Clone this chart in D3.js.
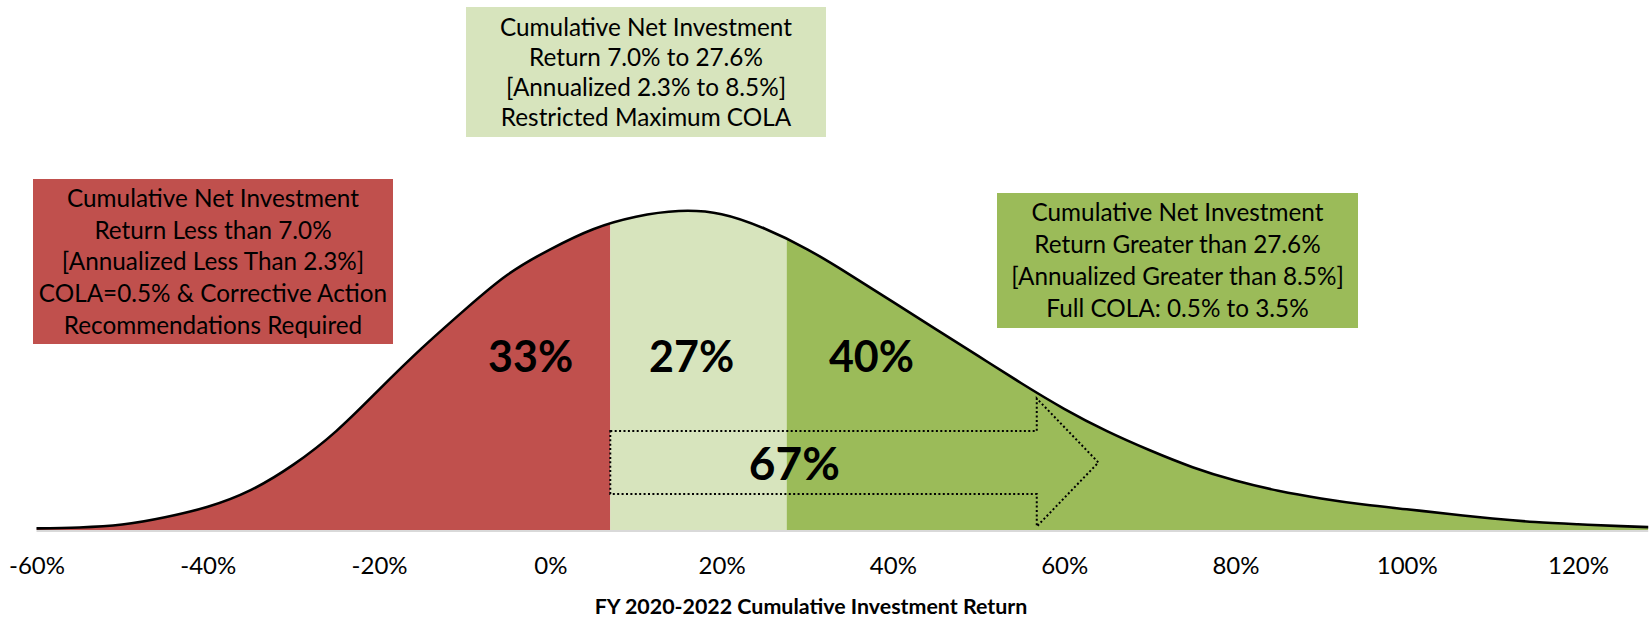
<!DOCTYPE html>
<html>
<head>
<meta charset="utf-8">
<script src="https://cdn.jsdelivr.net/npm/d3@7"></script>
<style>
  html, body { margin: 0; padding: 0; background: #ffffff; }
  svg { display: block; font-family: Lato, "Open Sans", sans-serif; }
</style>
</head>
<body>
<svg id="chart" width="1650" height="618"></svg>
<script>
// Cumulative return (%) and relative probability density of the distribution
const returnPct = [-60, -55, -50, -45, -40, -35, -30, -25, -20, -15, -10, -5, 0, 5, 10, 15, 20, 25, 30, 35, 40, 45, 50, 55, 60, 65, 70, 75, 80, 85, 90, 95, 100, 105, 110, 115, 120, 125, 128.2];
const density   = [0.005, 0.008, 0.017, 0.040, 0.073, 0.125, 0.205, 0.31, 0.44, 0.57, 0.69, 0.80, 0.88, 0.943, 0.982, 1.0, 0.99, 0.945, 0.88, 0.80, 0.715, 0.63, 0.545, 0.46, 0.38, 0.31, 0.25, 0.197, 0.155, 0.123, 0.099, 0.080, 0.065, 0.050, 0.036, 0.025, 0.018, 0.012, 0.009];

// Outcome bands: thresholds and probabilities
const bandNames  = ["Below", "Restricted", "Full"];
const bandLo     = [-60, 7.0, 27.6];
const bandHi     = [7.0, 27.6, 128.2];
const bandProb   = [33, 27, 40];
const bandColors = ["#C0504D", "#D7E4BD", "#9BBB59"];
const bandLabelAt = [-2.3, 16.5, 37.5];
const combinedProb = 67;

const tickValues = [-60, -40, -20, 0, 20, 40, 60, 80, 100, 120];
const axisTitle = "FY 2020-2022 Cumulative Investment Return";

const boxText = [
  ["Cumulative Net Investment", "Return Less than 7.0%", "[Annualized Less Than 2.3%]", "COLA=0.5% & Corrective Action", "Recommendations Required"],
  ["Cumulative Net Investment", "Return 7.0%  to 27.6%", "[Annualized 2.3% to 8.5%]", "Restricted Maximum COLA"],
  ["Cumulative Net Investment", "Return Greater than 27.6%", "[Annualized Greater than 8.5%]", "Full COLA: 0.5% to 3.5%"]
];

const svg = d3.select("#chart");

const x = d3.scaleLinear().domain([-60, 120]).range([36.5, 1578]);
const y = d3.scaleLinear().domain([0, 1]).range([530, 211]);

const pts = returnPct.map((r, i) => ({ r, d: density[i] }));

const area = d3.area()
  .x(p => x(p.r))
  .y0(y(0))
  .y1(p => y(p.d))
  .curve(d3.curveNatural);

const line = d3.line()
  .x(p => x(p.r))
  .y(p => y(p.d))
  .curve(d3.curveNatural);

// clip regions for each band
const defs = svg.append("defs");
bandNames.forEach((name, i) => {
  defs.append("clipPath").attr("id", "clip-" + name)
    .append("rect")
    .attr("x", x(bandLo[i]))
    .attr("y", 0)
    .attr("width", x(bandHi[i]) - x(bandLo[i]))
    .attr("height", 618);
});

// filled bands under the curve
svg.append("g").selectAll("path")
  .data(bandNames)
  .join("path")
  .attr("d", area(pts))
  .attr("clip-path", n => "url(#clip-" + n + ")")
  .attr("fill", (n, i) => bandColors[i]);

// horizontal axis line
svg.append("line")
  .attr("x1", x(-60)).attr("x2", x(128.2))
  .attr("y1", y(0) + 1).attr("y2", y(0) + 1)
  .attr("stroke", "#D9D9D9").attr("stroke-width", 2);

// distribution curve
svg.append("path")
  .attr("d", line(pts))
  .attr("fill", "none")
  .attr("stroke", "#000")
  .attr("stroke-width", 2.6);

// tick labels
const axis = d3.axisBottom(x)
  .tickValues(tickValues)
  .tickFormat(d => d + "%")
  .tickSize(0)
  .tickPadding(0);
const gAxis = svg.append("g").attr("transform", "translate(0," + 557 + ")").call(axis);
gAxis.select(".domain").remove();
gAxis.selectAll("text")
  .attr("font-family", "Lato, sans-serif")
  .attr("font-size", 24)
  .attr("fill", "#000")
  .attr("dy", "0.71em")
  .attr("y", 0);

// axis title
svg.append("text")
  .attr("x", 811).attr("y", 614)
  .attr("text-anchor", "middle")
  .attr("font-weight", "bold")
  .attr("font-size", 21.4)
  .attr("fill", "#000")
  .text(axisTitle);

// band probability labels
svg.append("g").selectAll("text")
  .data(bandProb)
  .join("text")
  .attr("x", (p, i) => x(bandLabelAt[i]))
  .attr("y", 372)
  .attr("text-anchor", "middle")
  .attr("font-weight", "bold")
  .attr("font-size", 43)
  .attr("fill", "#000")
  .text(p => p + "%");

// dotted arrow spanning the restricted and full bands
const arrowStart = x(bandLo[1]);
const arrowNeck = x(56.8);
const arrowTip = x(64.0);
const aMid = 462.5, aBody = 31.5, aHead = 64;
const arrowPts = [
  [arrowStart, aMid - aBody], [arrowNeck, aMid - aBody], [arrowNeck, aMid - aHead],
  [arrowTip, aMid], [arrowNeck, aMid + aHead], [arrowNeck, aMid + aBody],
  [arrowStart, aMid + aBody]
];
svg.append("path")
  .attr("d", d3.line()(arrowPts) + "Z")
  .attr("fill", "none")
  .attr("stroke", "#000")
  .attr("stroke-width", 2)
  .attr("stroke-dasharray", "2,2.4");

svg.append("text")
  .attr("x", x(28.5)).attr("y", 480)
  .attr("text-anchor", "middle")
  .attr("font-weight", "bold")
  .attr("font-size", 46)
  .attr("fill", "#000")
  .text(combinedProb + "%");

// description boxes
const boxes = [
  { x: 33,  y: 179, w: 360, h: 165, lh: 31.7, fill: bandColors[0], lines: boxText[0] },
  { x: 466, y: 7,   w: 360, h: 130, lh: 30,   fill: bandColors[1], lines: boxText[1] },
  { x: 997, y: 193, w: 361, h: 135, lh: 32,   fill: bandColors[2], lines: boxText[2] }
];
const gBox = svg.append("g").selectAll("g").data(boxes).join("g");
gBox.append("rect")
  .attr("x", b => b.x).attr("y", b => b.y)
  .attr("width", b => b.w).attr("height", b => b.h)
  .attr("fill", b => b.fill);
gBox.each(function (b) {
  const g = d3.select(this);
  const cy = b.y + b.h / 2;
  const n = b.lines.length;
  g.selectAll("text").data(b.lines).join("text")
    .attr("x", b.x + b.w / 2)
    .attr("y", (t, i) => cy + (i - (n - 1) / 2) * b.lh)
    .attr("dy", "0.36em")
    .attr("text-anchor", "middle")
    .attr("font-size", 24.3)
    .attr("fill", "#000")
    .text(t => t);
});
</script>
</body>
</html>
